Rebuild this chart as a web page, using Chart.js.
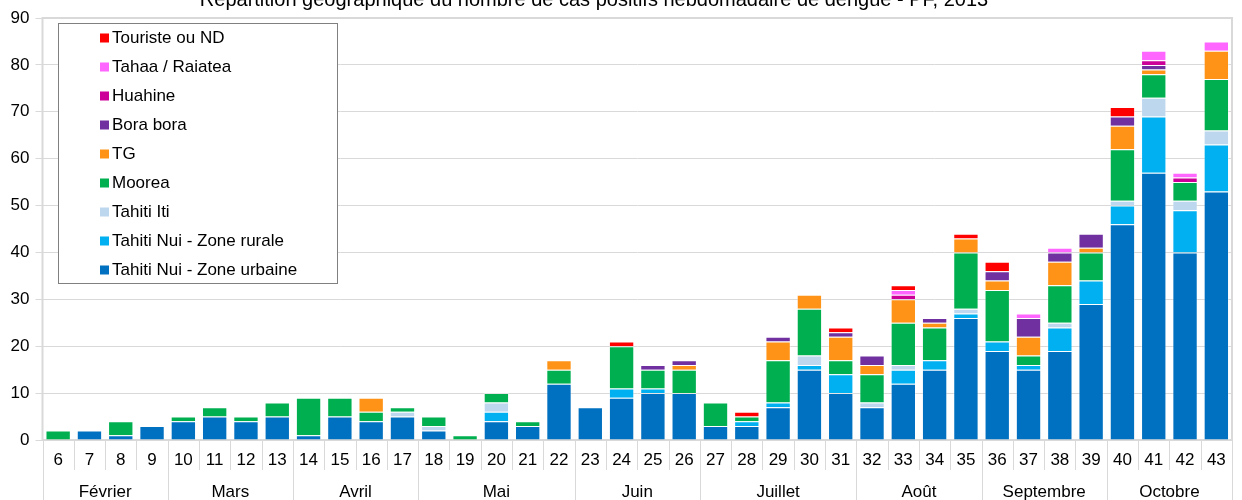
<!DOCTYPE html>
<html>
<head>
<meta charset="utf-8">
<script src="https://cdn.jsdelivr.net/npm/chart.js@4.4.0/dist/chart.umd.min.js"></script>
<style>
  body { margin: 0; background: #fff; }
  #wrap { width: 1242px; height: 500px; position: relative; }
</style>
</head>
<body>
<div id="wrap"><canvas id="bar-chart"></canvas></div>
<script>
// semaines epidemiologiques
var weeks = ['6','7','8','9','10','11','12','13','14','15','16','17','18','19','20','21','22','23','24','25','26','27','28','29','30','31','32','33','34','35','36','37','38','39','40','41','42','43'];
var months = ['Février','Mars','Avril','Mai','Juin','Juillet','Août','Septembre','Octobre'];
var weeksPerMonth = [4, 4, 4, 5, 4, 5, 4, 4, 4];
var yTicks = [0, 10, 20, 30, 40, 50, 60, 70, 80, 90];
var title = 'Répartition géographique du nombre de cas positifs hebdomadaire de dengue - PF, 2013';

// nombre de cas par zone
var urbaine  = [0,2,1,3, 4,5,4,5, 1,5,4,5, 2,0,4,3,12, 7,9,10,10, 3,3,7,15,10, 7,12,15,26, 19,15,19,29, 46,57,40,53];
var rurale   = [0,0,0,0, 0,0,0,0, 0,0,0,0, 0,0,2,0,0,  0,2,1,0,   0,1,1,1,4,    0,3,2,1,    2,1,5,5,     4,12,9,10];
var iti      = [0,0,0,0, 0,0,0,0, 0,0,0,1, 1,0,2,0,0,  0,0,0,0,   0,0,0,2,0,    1,1,0,1,    0,0,1,0,     1,4,2,3];
var moorea   = [2,0,3,0, 1,2,1,3, 8,4,2,1, 2,1,2,1,3,  0,9,4,5,   5,1,9,10,3,   6,9,7,12,   11,2,8,6,    11,5,4,11];
var tg       = [0,0,0,0, 0,0,0,0, 0,0,3,0, 0,0,0,0,2,  0,0,0,1,   0,0,4,3,5,    2,5,1,3,    2,4,5,1,     5,1,0,6];
var bora     = [0,0,0,0, 0,0,0,0, 0,0,0,0, 0,0,0,0,0,  0,0,1,1,   0,0,1,0,1,    2,0,1,0,    2,4,2,3,     2,1,0,0];
var huahine  = [0,0,0,0, 0,0,0,0, 0,0,0,0, 0,0,0,0,0,  0,0,0,0,   0,0,0,0,0,    0,1,0,0,    0,0,0,0,     0,1,1,0];
var tahaa    = [0,0,0,0, 0,0,0,0, 0,0,0,0, 0,0,0,0,0,  0,0,0,0,   0,0,0,0,0,    0,1,0,0,    0,1,1,0,     0,2,1,2];
var touriste = [0,0,0,0, 0,0,0,0, 0,0,0,0, 0,0,0,0,0,  0,1,0,0,   0,1,0,0,1,    0,1,0,1,    2,0,0,0,     2,0,0,0];

var seriesNames = ['Tahiti Nui - Zone urbaine','Tahiti Nui - Zone rurale','Tahiti Iti','Moorea','TG','Bora bora','Huahine','Tahaa / Raiatea','Touriste ou ND'];
var seriesData = [urbaine, rurale, iti, moorea, tg, bora, huahine, tahaa, touriste];
var seriesColors = ['#0070C0','#00B0F0','#BDD7EE','#00B050','#FF9317','#7030A0','#CC0099','#FF66FF','#FF0000'];

var FONT = 'Arial, "Liberation Sans", sans-serif';

var decor = {
  id: 'decor',
  beforeDatasetsDraw: function(chart) {
    var ctx = chart.ctx, a = chart.chartArea;
    ctx.save();
    ctx.strokeStyle = '#D9D9D9';
    ctx.lineWidth = 2;
    ctx.strokeRect(a.left, a.top, a.right - a.left, a.bottom - a.top);
    ctx.restore();
  },
  afterDraw: function(chart) {
    var ctx = chart.ctx, a = chart.chartArea, x = chart.scales.x;
    var half = (a.right - a.left) / weeks.length / 2;
    ctx.save();

    // separateurs semaines / mois
    var ends = [0], n = 0;
    weeksPerMonth.forEach(function(w) { n += w; ends.push(n); });
    ctx.strokeStyle = '#D9D9D9';
    ctx.lineWidth = 1;
    for (var i = 0; i <= weeks.length; i++) {
      var px = i < weeks.length ? x.getPixelForValue(i) - half : a.right;
      px = Math.round(px) + 0.5;
      var longLine = ends.indexOf(i) >= 0;
      ctx.beginPath();
      ctx.moveTo(px, a.bottom + 1);
      ctx.lineTo(px, longLine ? 500 : 470);
      ctx.stroke();
    }

    // mois
    ctx.fillStyle = '#000';
    ctx.font = '17px ' + FONT;
    ctx.textAlign = 'center';
    ctx.textBaseline = 'alphabetic';
    for (var m = 0; m < months.length; m++) {
      var x0 = x.getPixelForValue(ends[m]) - half;
      var x1 = ends[m + 1] < weeks.length ? x.getPixelForValue(ends[m + 1]) - half : a.right;
      ctx.fillText(months[m], (x0 + x1) / 2, 497);
    }

    // titre (coupe en haut)
    ctx.font = '20px ' + FONT;
    ctx.fillText(title, 594, 6);

    // legende
    var lx = 58, ly = 23, lw = 279, lh = 260;
    ctx.fillStyle = '#fff';
    ctx.fillRect(lx, ly, lw, lh);
    ctx.strokeStyle = '#808080';
    ctx.lineWidth = 1;
    ctx.strokeRect(lx + 0.5, ly + 0.5, lw, lh);
    ctx.font = '17px ' + FONT;
    ctx.textAlign = 'left';
    ctx.textBaseline = 'middle';
    for (var k = 0; k < seriesNames.length; k++) {
      var idx = seriesNames.length - 1 - k;
      var cy = 38 + k * 29;
      ctx.fillStyle = seriesColors[idx];
      ctx.fillRect(100, cy - 4.5, 9, 9);
      ctx.fillStyle = '#000';
      ctx.fillText(seriesNames[idx], 112, cy);
    }
    ctx.restore();
  }
};

var datasets = seriesNames.map(function(name, i) {
  return {
    label: name,
    data: seriesData[i].map(function(v) { return v === 0 ? null : v; }),
    backgroundColor: seriesColors[i],
    borderColor: 'rgba(255,255,255,0.35)',
    borderWidth: 1,
    barPercentage: 0.81,
    categoryPercentage: 1.0
  };
});

var ctx = document.getElementById('bar-chart');
var myChart = new Chart(ctx, {
  type: 'bar',
  data: { labels: weeks, datasets: datasets },
  options: {
    responsive: true,
    maintainAspectRatio: false,
    animation: false,
    layout: { padding: { top: 18, right: 10, left: 0, bottom: 0 } },
    plugins: {
      legend: { display: false },
      title: { display: false },
      tooltip: { enabled: false }
    },
    scales: {
      x: {
        stacked: true,
        grid: { display: false, drawTicks: false },
        border: { display: false },
        ticks: {
          color: '#000',
          font: { size: 17, family: FONT },
          padding: 10,
          maxRotation: 0,
          autoSkip: false
        },
        afterFit: function(s) { s.height = 60; }
      },
      y: {
        stacked: true,
        min: 0,
        max: 90,
        grid: { color: '#D9D9D9', lineWidth: 1, tickLength: 7 },
        border: { display: false },
        ticks: {
          color: '#000',
          font: { size: 17, family: FONT },
          padding: 6
        },
        afterBuildTicks: function(s) { s.ticks = yTicks.map(function(v) { return { value: v }; }); },
        afterFit: function(s) { s.width = 42.5; }
      }
    }
  },
  plugins: [decor]
});
</script>
</body>
</html>
